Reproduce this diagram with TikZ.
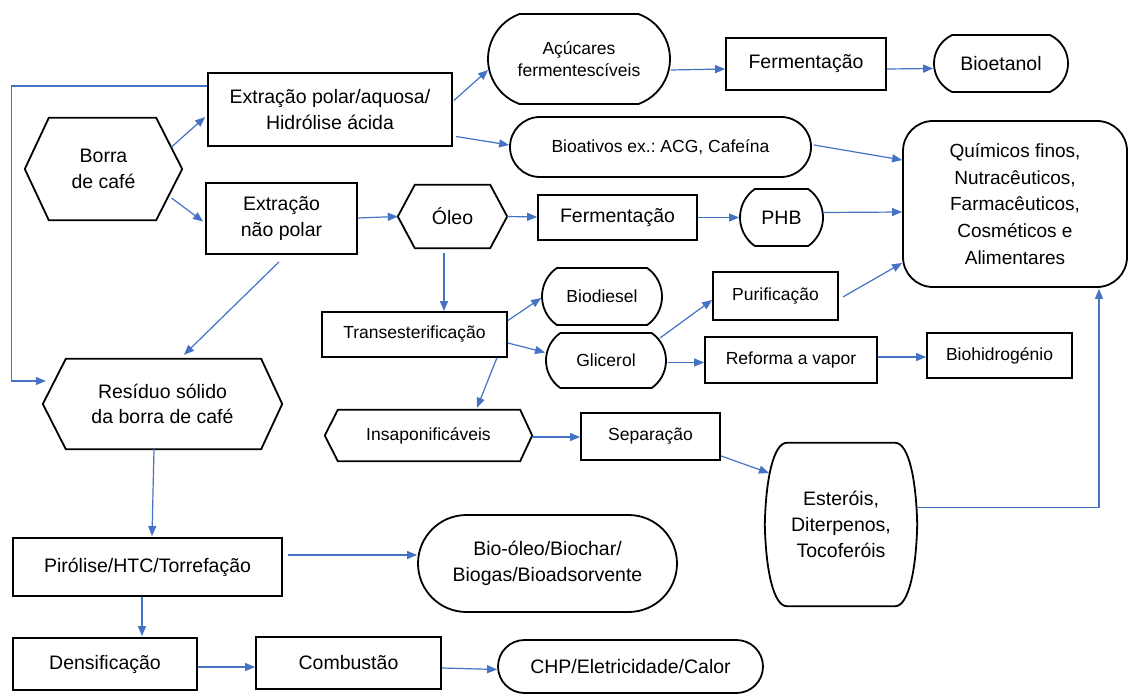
\documentclass[tikz,border=0pt]{standalone}
\usepackage{fontspec}
\setmainfont{Liberation Sans}
\usetikzlibrary{arrows.meta,shapes.misc,calc}
\definecolor{flow}{HTML}{4472C4}
\frenchspacing
\begin{document}
\begin{tikzpicture}[x=1pt,y=-1pt,
 big/.style={font=\fontsize{19.5}{25.5}\selectfont},
 small/.style={font=\fontsize{17.5}{22.5}\selectfont},
 box/.style={draw=black,line width=1.8pt,rectangle,inner sep=0pt,align=center},
 rr/.style={draw=black,line width=1.8pt,rounded rectangle,inner sep=0pt,align=center},
 hexn/.style={inner sep=0pt,align=center},
 hexline/.style={draw=black,line width=1.8pt,line join=miter},
 conn/.style={draw=flow,line width=1.2pt,-{Triangle[length=10pt,width=8pt]}},
]
\fill[white] (0,0) rectangle (1129,695);
\useasboundingbox (0,0) rectangle (1129,695);

% ---------- nodes ----------
\node[hexn,big,minimum width=157pt,minimum height=102pt] (borra) at (103.5,169) {Borra\\de café};
\node[box,big,minimum width=244pt,minimum height=73pt] (polar) at (330,109.5) {Extração polar/aquosa/\\Hidrólise ácida};
\node[box,big,minimum width=151pt,minimum height=71pt] (naopolar) at (281.5,218.5) {Extração\\não polar};
\node[hexn,big,minimum width=109pt,minimum height=63pt] (oleo) at (452.5,216.5) {Óleo};
\node[rr,small,rounded rectangle arc length=140,minimum width=182pt,minimum height=90pt] (acucar) at (579,59) {Açúcares\\fermentescíveis};
\node[box,big,minimum width=160pt,minimum height=52pt] (ferm1) at (806,64) {Fermentação};
\node[rr,big,rounded rectangle arc length=130,minimum width=134pt,minimum height=57pt] (bioetanol) at (1001,63.5) {Bioetanol};
\node[rr,small,minimum width=301pt,minimum height=60pt] (bioativos) at (660.5,147) {Bioativos ex.: ACG, Cafeína};
\node[draw=black,line width=1.8pt,rounded corners=30pt,inner sep=0pt,align=center,minimum width=224pt,minimum height=166pt,font=\fontsize{19}{26.7}\selectfont] (quimicos) at (1015,204) {Químicos finos,\\Nutracêuticos,\\Farmacêuticos,\\Cosméticos e\\Alimentares};
\node[box,big,minimum width=159pt,minimum height=45pt] (ferm2) at (617.5,217.5) {Fermentação};
\node[rr,big,rounded rectangle arc length=110,minimum width=83pt,minimum height=57pt] (phb) at (781.5,217.5) {PHB};
\node[box,small,minimum width=185pt,minimum height=45pt] (trans) at (414.5,334.5) {Transesterificação};
\node[rr,small,rounded rectangle arc length=110,minimum width=120pt,minimum height=57pt] (biodiesel) at (602,296.5) {Biodiesel};
\node[rr,small,rounded rectangle arc length=110,minimum width=120pt,minimum height=55pt] (glicerol) at (606,360.5) {Glicerol};
\node[box,small,minimum width=125pt,minimum height=48pt] (purif) at (775.5,296) {Purificação};
\node[box,small,minimum width=172pt,minimum height=46pt] (reforma) at (791,360) {Reforma a vapor};
\node[box,small,minimum width=145pt,minimum height=45pt] (bioh) at (999.5,355.5) {Biohidrogénio};
\node[hexn,big,minimum width=239pt,minimum height=90pt] (residuo) at (162.5,404) {Resíduo sólido\\da borra de café};
\node[hexn,small,minimum width=207pt,minimum height=51pt] (insap) at (428.5,435.5) {Insaponificáveis};
\node[box,small,minimum width=139pt,minimum height=47pt] (separ) at (650.5,436.5) {Separação};
\node[hexn,minimum width=152pt,minimum height=163pt,font=\fontsize{19.5}{26}\selectfont] (esterois) at (841,524.5) {Esteróis,\\Diterpenos,\\Tocoferóis};
\node[box,big,minimum width=269pt,minimum height=58pt] (pirolise) at (147.5,567) {Pirólise/HTC/Torrefação};
\node[rr,big,minimum width=259pt,minimum height=97pt] (bioleo) at (547.5,563.5) {Bio-óleo/Biochar/\\Biogas/Bioadsorvente};
\node[box,big,minimum width=184pt,minimum height=52pt] (densif) at (105,664) {Densificação};
\node[box,big,minimum width=185pt,minimum height=52pt] (combust) at (348.5,663) {Combustão};
\node[rr,big,minimum width=265pt,minimum height=53pt] (chp) at (630.5,666.5) {CHP/Eletricidade/Calor};

% ---------- hexagon outlines ----------
\draw[hexline] ($(borra.north west)+(24,0)$) -- ($(borra.north east)+(-26,0)$) -- (borra.east) -- ($(borra.south east)+(-26,0)$) -- ($(borra.south west)+(24,0)$) -- (borra.west) -- cycle;
\draw[hexline] ($(oleo.north west)+(17,0)$) -- ($(oleo.north east)+(-17,0)$) -- (oleo.east) -- ($(oleo.south east)+(-17,0)$) -- ($(oleo.south west)+(17,0)$) -- (oleo.west) -- cycle;
\draw[hexline] ($(residuo.north west)+(23,0)$) -- ($(residuo.north east)+(-21,0)$) -- (residuo.east) -- ($(residuo.south east)+(-21,0)$) -- ($(residuo.south west)+(23,0)$) -- (residuo.west) -- cycle;
\draw[hexline] ($(insap.north west)+(13,0)$) -- ($(insap.north east)+(-12,0)$) -- (insap.east) -- ($(insap.south east)+(-12,0)$) -- ($(insap.south west)+(13,0)$) -- (insap.west) -- cycle;
% barrel outline
\draw[hexline,line join=round] ($(esterois.north west)+(22,0)$) -- ($(esterois.north east)+(-22,0)$)
  .. controls ($(esterois.north east)+(-9,0)$) and ($(esterois.north east)+(-1,35)$) .. (esterois.east)
  .. controls ($(esterois.south east)+(-1,-35)$) and ($(esterois.south east)+(-9,0)$) .. ($(esterois.south east)+(-22,0)$)
  -- ($(esterois.south west)+(22,0)$)
  .. controls ($(esterois.south west)+(9,0)$) and ($(esterois.south west)+(1,-35)$) .. (esterois.west)
  .. controls ($(esterois.north west)+(1,35)$) and ($(esterois.north west)+(9,0)$) .. ($(esterois.north west)+(22,0)$) -- cycle;

% ---------- connectors ----------
\draw[conn] ($(borra.center)+(68,-22)$) -- ($(polar.west)+(-2,7.5)$);
\draw[conn] ($(borra.center)+(68,29)$) -- ($(naopolar.west)+(-2,3)$);
\draw[conn] ($(polar.east)+(1,-9)$) -- ($(acucar.west)+(1,11)$);
\draw[conn] ($(polar.east)+(3,27)$) -- ($(bioativos.west)+(0,-2)$);
\draw[conn] ($(naopolar.east)+(0,-0.5)$) -- (oleo.west);
\draw[conn] (oleo.east) -- ($(ferm2.west)+(0,-0.5)$);
\draw[conn] (ferm2.east) -- (phb.west);
\draw[conn] ($(phb.east)+(0,-5)$) -- ($(quimicos.west)+(0,8)$);
\draw[conn] ($(acucar.east)+(0,11)$) -- ($(ferm1.west)+(0,5)$);
\draw[conn] ($(ferm1.east)+(0,5)$) -- ($(bioetanol.west)+(0,5)$);
\draw[conn] ($(bioativos.east)+(2,-2)$) -- ($(quimicos.west)+(0,-44)$);
\draw[conn] ($(oleo.south)+(-8.5,5)$) -- ($(trans.north)+(29.5,0)$);
\draw[conn] ($(trans.east)+(0,-14)$) -- ($(biodiesel.west)+(0,1.5)$);
\draw[conn] ($(trans.east)+(0,8.5)$) -- ($(glicerol.west)+(0,-8)$);
\draw[conn] ($(trans.south east)+(-11,0)$) -- ($(insap.north)+(48.5,-2)$);
\draw[conn] ($(glicerol.center)+(54,-22.5)$) -- ($(purif.west)+(0,4)$);
\draw[conn] ($(glicerol.east)+(1,2)$) -- ($(reforma.west)+(0,2.5)$);
\draw[conn] ($(reforma.east)+(0,-3)$) -- ($(bioh.west)+(0,1.5)$);
\draw[conn] ($(purif.east)+(4,1)$) -- ($(quimicos.west)+(0,59)$);
\draw[conn] ($(insap.east)+(0,1.5)$) -- ($(separ.west)+(0,0.5)$);
\draw[conn] ($(separ.south east)+(0,-5)$) -- ($(esterois.center)+(-72,-51.5)$);
\draw[conn] ($(esterois.east)+(0,-17)$) -| ($(quimicos.south)+(84,1)$);
\draw[conn] ($(polar.west)+(0,-23.5)$) -- ++(-196,0) |- ($(residuo.west)+(3,-23)$);
\draw[conn] ($(naopolar.south)+(-2.5,7)$) -- ($(residuo.north)+(21.5,-4)$);
\draw[conn] ($(residuo.south)+(-8.5,0)$) -- ($(pirolise.north)+(4.5,-1)$);
\draw[conn] ($(pirolise.east)+(5,-12)$) -- ($(bioleo.west)+(0,-8.5)$);
\draw[conn] ($(pirolise.south)+(-5.5,0)$) -- ($(densif.north)+(37,-1)$);
\draw[conn] ($(densif.east)+(0,3)$) -- ($(combust.west)+(0,4)$);
\draw[conn] ($(combust.east)+(0,5)$) -- ($(chp.west)+(0,3)$);
\end{tikzpicture}
\end{document}
